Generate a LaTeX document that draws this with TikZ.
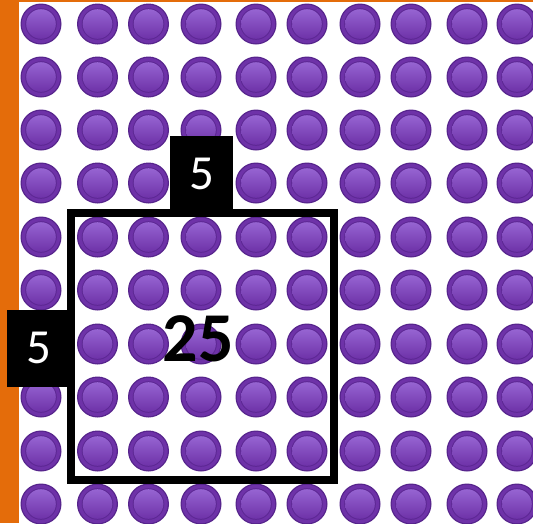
\documentclass[tikz,border=0pt]{standalone}
\usepackage{fontspec}
\setmainfont{Carlito}
\usetikzlibrary{positioning}
\definecolor{barorange}{RGB}{228,108,10}
\definecolor{beaddark}{RGB}{86,36,140}
\definecolor{beadmid}{RGB}{110,50,168}
\definecolor{beadlight}{RGB}{150,100,210}
\tikzset{
  numbox/.style={fill=black,text=white,inner sep=0pt,minimum width=63pt,
                 minimum height=77pt,font=\fontsize{49}{54}\selectfont},
  sqline/.style={draw=black,line width=8pt},
  areanum/.style={inner sep=0pt,text=black,font=\bfseries\fontsize{70}{74}\selectfont},
}
\newcommand{\drawbead}[1]{%
  \fill[beaddark] (#1) circle (20.5pt);
  \fill[beadmid] (#1) circle (19.2pt);
  \fill[beaddark!70!beadmid] (#1) circle (15.8pt);
  \shade[top color=beadlight,bottom color=beadmid] (#1) circle (14.8pt);
}

\begin{document}
\begin{tikzpicture}[x=1pt,y=-1pt]
  \useasboundingbox (0,0) rectangle (533,523);
  \fill[white] (0,0) rectangle (533,523);
  % orange edge
  \fill[barorange] (0,0) rectangle (19,523);
  \fill[barorange] (0,0) rectangle (533,2);

  % beads
  \foreach \x in {41,97.5,148.5,201,256,307,360,411,467,517}
    \foreach \y in {24,77,130,183,237,290,344,397,451,504}
      {\drawbead{\x,\y}}

  % the 5 by 5 square
  \coordinate (sqa) at (70.5,212.5);
  \coordinate (sqb) at (334,480);
  \draw[sqline] (sqa) rectangle (sqb);

  \node[numbox] (topfive) at (201.5,174) {5};
  \node[numbox] (leftfive) at (38.5,348) {5};
  \node[areanum] (area) at (198,339) {25};
\end{tikzpicture}
\end{document}
